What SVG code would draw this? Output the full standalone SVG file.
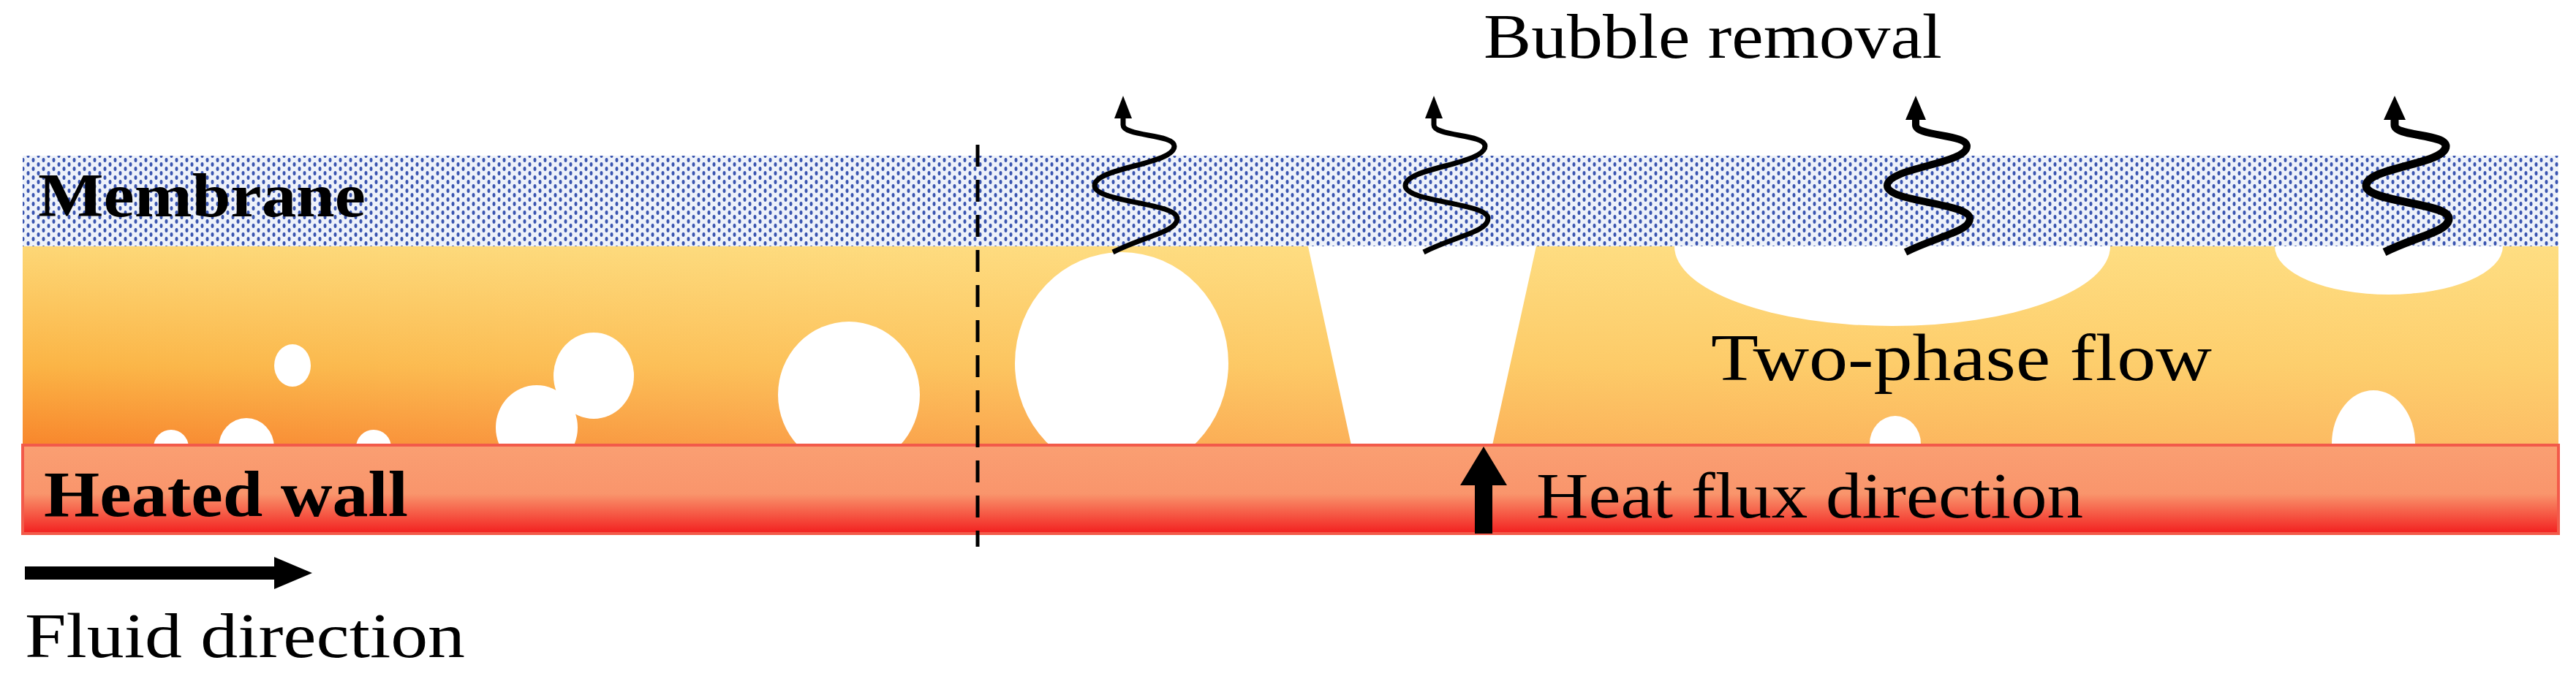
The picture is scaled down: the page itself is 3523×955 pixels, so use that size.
<svg xmlns="http://www.w3.org/2000/svg" width="3523" height="955" viewBox="0 0 3523 955">
<defs>
<pattern id="dots" width="14" height="12" patternUnits="userSpaceOnUse">
<rect width="14" height="12" fill="#eef2fa"/>
<ellipse cx="3.5" cy="3" rx="2" ry="3" fill="#3a55b0"/>
<ellipse cx="10.5" cy="9" rx="2" ry="3" fill="#3a55b0"/>
</pattern>
<linearGradient id="flow" x1="0" y1="0" x2="0" y2="1">
<stop offset="0" stop-color="#fdd776"/>
<stop offset="0.6" stop-color="#fbb445"/>
<stop offset="1" stop-color="#f8862c"/>
</linearGradient>
<linearGradient id="flowR" x1="0" y1="0" x2="1" y2="0">
<stop offset="0" stop-color="#ffe9a0" stop-opacity="0"/>
<stop offset="0.5" stop-color="#ffe38e" stop-opacity="0.45"/>
<stop offset="1" stop-color="#ffe28a" stop-opacity="0.6"/>
</linearGradient>
<linearGradient id="wall" x1="0" y1="0" x2="0" y2="1">
<stop offset="0" stop-color="#fa9f72"/>
<stop offset="0.55" stop-color="#f9956c"/>
<stop offset="1" stop-color="#f21f1f"/>
</linearGradient>
<path id="wave" d="M-14,214 C30,192 74,186 74,168 C74,146 -39,146 -39,123 C-39,98 70,94 70,69 C70,52 0,56 0,40 L0,26" fill="none" stroke="#000"/>
<style>
.t{font-family:"Liberation Serif",serif;fill:#000}
.b{font-weight:bold}
.bub{fill:#fff}
</style>
</defs>
<rect width="3523" height="955" fill="#fff"/>
<g id="flow-region">
<rect x="31" y="337" width="3468" height="272" fill="url(#flow)"/>
<rect x="31" y="337" width="3468" height="272" fill="url(#flowR)"/>
</g>
<g id="bubbles">
<ellipse class="bub" cx="400" cy="500" rx="25" ry="29"/>
<ellipse class="bub" cx="234" cy="612" rx="24" ry="24"/>
<ellipse class="bub" cx="337" cy="612" rx="38" ry="40"/>
<ellipse class="bub" cx="511" cy="612" rx="24" ry="24"/>
<ellipse class="bub" cx="734" cy="585" rx="56" ry="58"/>
<ellipse class="bub" cx="812" cy="514" rx="55" ry="59"/>
<ellipse class="bub" cx="1161" cy="540" rx="97" ry="100"/>
<ellipse class="bub" cx="1534" cy="497" rx="146" ry="152"/>
<polygon class="bub" points="1789,337 2101,337 2041,609 1848,609"/>
<ellipse class="bub" cx="2588" cy="337" rx="298" ry="109"/>
<ellipse class="bub" cx="3267" cy="337" rx="156" ry="66"/>
<ellipse class="bub" cx="2592" cy="607" rx="35" ry="38"/>
<ellipse class="bub" cx="3246" cy="607" rx="57" ry="73"/>
</g>
<g id="membrane">
<rect x="31" y="213" width="3468" height="124" fill="url(#dots)"/>
<text class="t b" x="52" y="296" font-size="84" textLength="448" lengthAdjust="spacingAndGlyphs">Membrane</text>
</g>
<g id="heated-wall">
<rect x="31" y="609" width="3468" height="121" fill="url(#wall)" stroke="#f25a4a" stroke-width="4"/>
<text class="t b" x="60" y="706" font-size="88" textLength="498" lengthAdjust="spacingAndGlyphs">Heated wall</text>
<text class="t" x="2101" y="708" font-size="88" textLength="748" lengthAdjust="spacingAndGlyphs">Heat flux direction</text>
</g>
<text class="t" x="2340" y="520" font-size="92" textLength="685" lengthAdjust="spacingAndGlyphs">Two-phase flow</text>
<text class="t" x="2029" y="79" font-size="86" textLength="627" lengthAdjust="spacingAndGlyphs">Bubble removal</text>
<text class="t" x="34" y="899" font-size="86" textLength="602" lengthAdjust="spacingAndGlyphs">Fluid direction</text>
<g id="connectors">
<line x1="1337" y1="198" x2="1337" y2="748" stroke="#000" stroke-width="5" stroke-dasharray="30,18"/>
<path d="M34,784 H380" stroke="#000" stroke-width="18"/>
<polygon points="375,762 427,784 375,806"/>
<path d="M2029,730 V660" stroke="#000" stroke-width="24"/>
<polygon points="1997,664 2029,611 2061,664"/>
<use href="#wave" transform="translate(1536,131)" stroke-width="7"/>
<use href="#wave" transform="translate(1961,131)" stroke-width="7"/>
<use href="#wave" transform="translate(2620,131)" stroke-width="10"/>
<use href="#wave" transform="translate(3275,131)" stroke-width="11"/>
<polygon points="1536,131 1524,162 1548,162"/>
<polygon points="1961,131 1949,162 1973,162"/>
<polygon points="2620,131 2606,164 2634,164"/>
<polygon points="3275,131 3260,164 3290,164"/>
</g>
</svg>
